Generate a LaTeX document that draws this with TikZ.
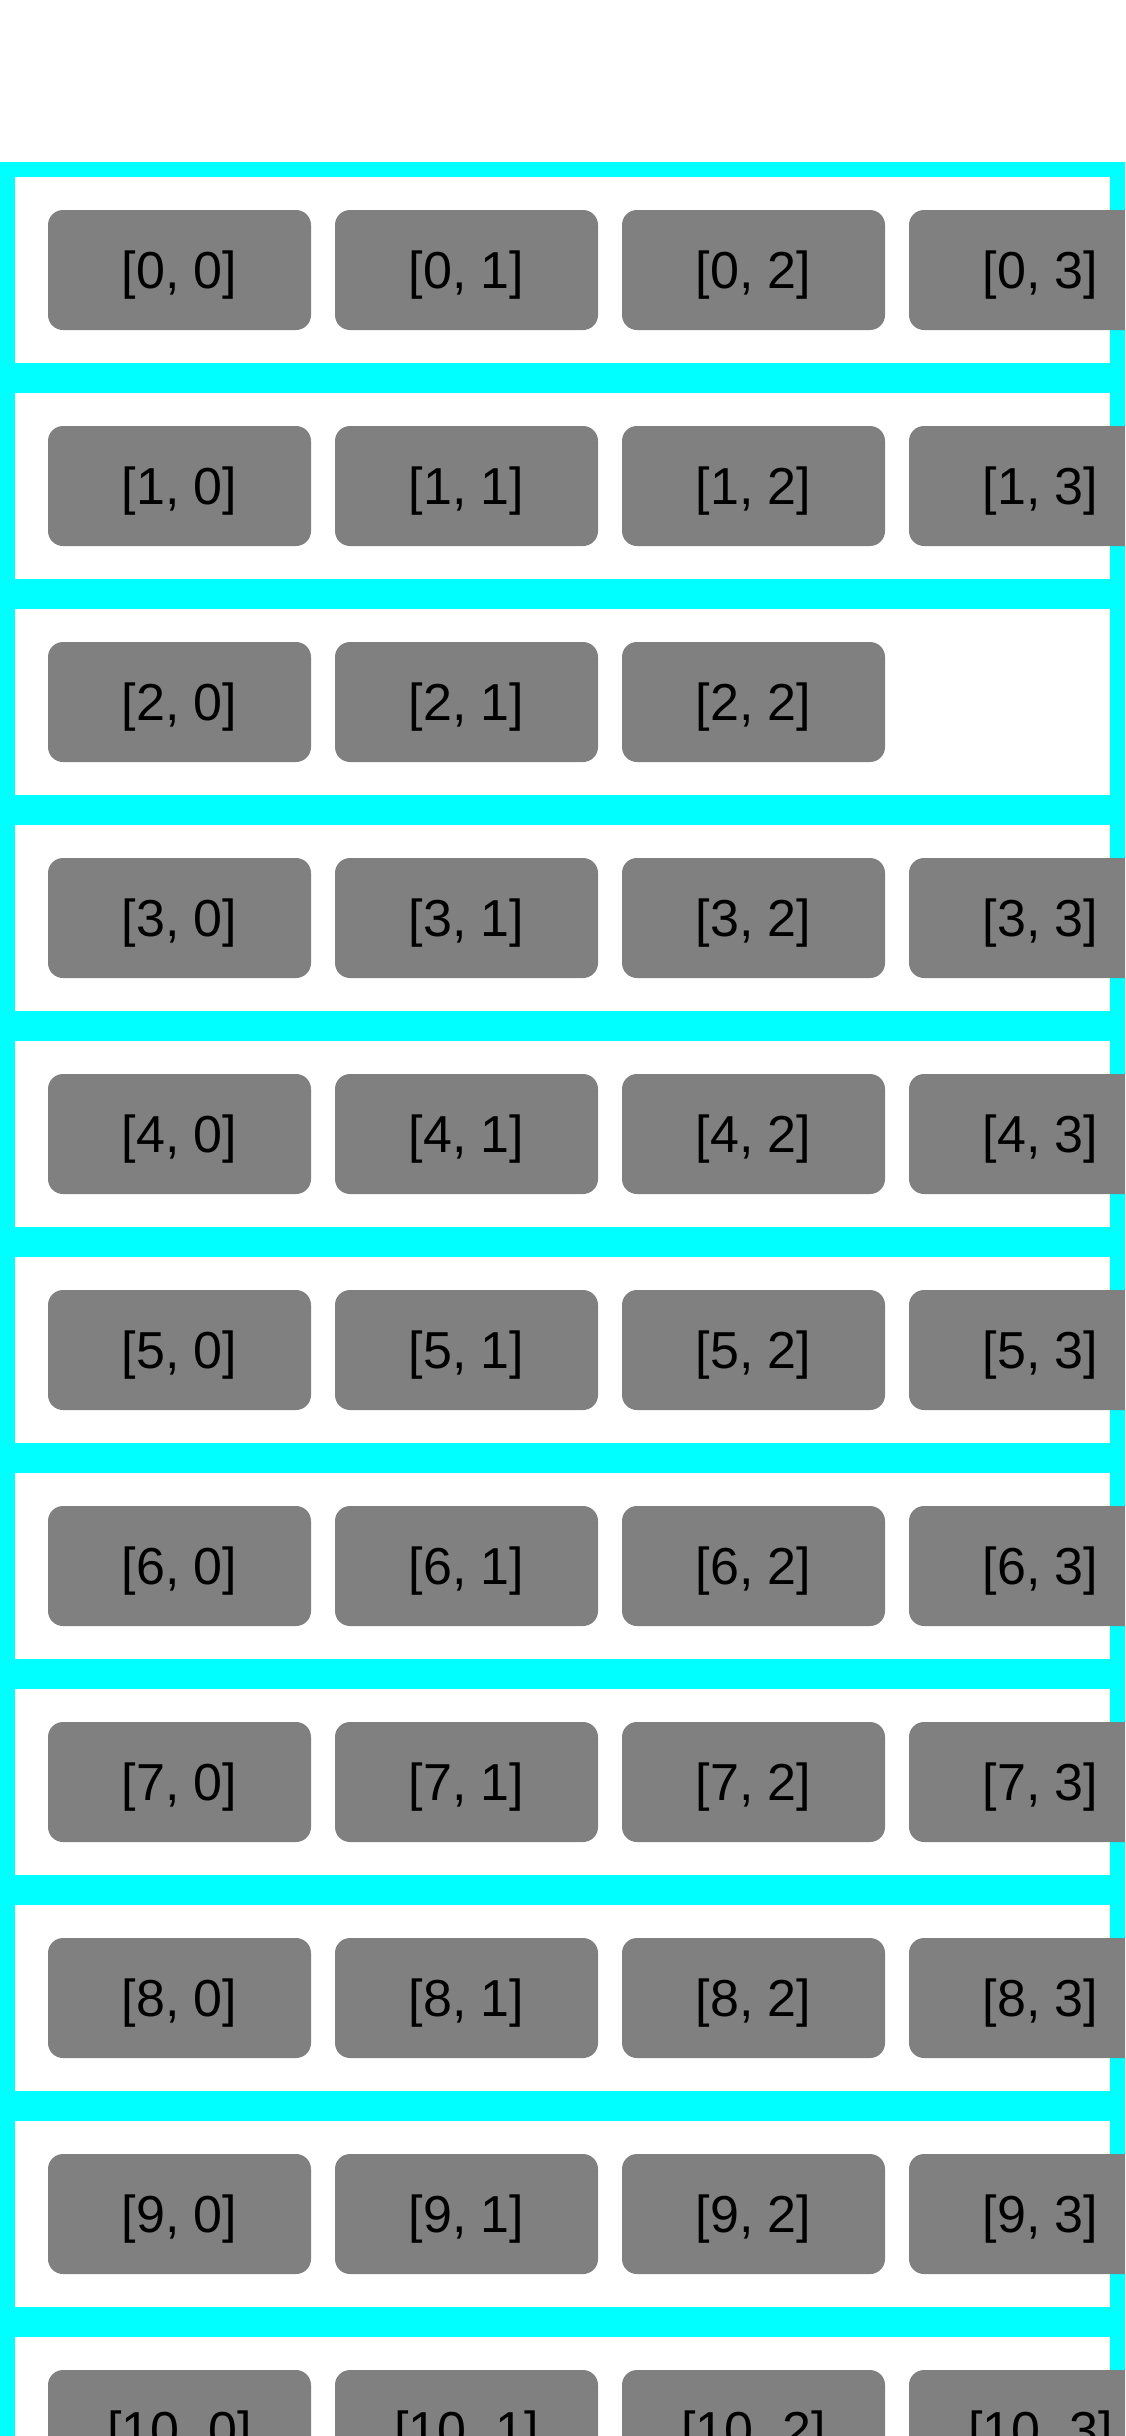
\documentclass[tikz,border=0pt]{standalone}
\usepackage{fontspec}
\setmainfont{Liberation Sans}
\usepackage{tikz}
\usetikzlibrary{positioning}
\definecolor{bandcyan}{RGB}{0,255,255}
\definecolor{cellgray}{RGB}{128,128,128}
\tikzset{
    frame/.style={fill=bandcyan},
    band/.style={fill=white},
    cell/.style={rectangle, fill=cellgray, rounded corners=7.5pt, minimum width=131.5pt, minimum height=60pt, inner sep=0pt, text height=18.7pt, text depth=0pt, font=\fontsize{26pt}{30pt}\selectfont, text=black}
}
\begin{document}
\begin{tikzpicture}[x=0.5pt, y=-0.5pt]
        \useasboundingbox (0,0) rectangle (1125,2436);
        \clip (0,0) rectangle (1125,2436);
        \fill[white] (0,0) rectangle (1125,2436);

        % cyan frame with white bands for each row
        \path[frame] (0,162) rectangle (1125,2600);
        \path[band] (15,177) rectangle (1110,363);
        \path[band] (15,393) rectangle (1110,579);
        \path[band] (15,609) rectangle (1110,795);
        \path[band] (15,825) rectangle (1110,1011);
        \path[band] (15,1041) rectangle (1110,1227);
        \path[band] (15,1257) rectangle (1110,1443);
        \path[band] (15,1473) rectangle (1110,1659);
        \path[band] (15,1689) rectangle (1110,1875);
        \path[band] (15,1905) rectangle (1110,2091);
        \path[band] (15,2121) rectangle (1110,2307);
        \path[band] (15,2337) rectangle (1110,2523);

        \node[cell] (r0c0) at (179.5, 270) {[0, 0]};
        \node[cell] (r0c1) at (466.5, 270) {[0, 1]};
        \node[cell] (r0c2) at (753.5, 270) {[0, 2]};
        \node[cell] (r0c3) at (1040.5, 270) {[0, 3]};

        \node[cell] (r1c0) at (179.5, 486) {[1, 0]};
        \node[cell] (r1c1) at (466.5, 486) {[1, 1]};
        \node[cell] (r1c2) at (753.5, 486) {[1, 2]};
        \node[cell] (r1c3) at (1040.5, 486) {[1, 3]};

        % this row has only three cells
        \node[cell] (r2c0) at (179.5, 702) {[2, 0]};
        \node[cell] (r2c1) at (466.5, 702) {[2, 1]};
        \node[cell] (r2c2) at (753.5, 702) {[2, 2]};

        \node[cell] (r3c0) at (179.5, 918) {[3, 0]};
        \node[cell] (r3c1) at (466.5, 918) {[3, 1]};
        \node[cell] (r3c2) at (753.5, 918) {[3, 2]};
        \node[cell] (r3c3) at (1040.5, 918) {[3, 3]};

        \node[cell] (r4c0) at (179.5, 1134) {[4, 0]};
        \node[cell] (r4c1) at (466.5, 1134) {[4, 1]};
        \node[cell] (r4c2) at (753.5, 1134) {[4, 2]};
        \node[cell] (r4c3) at (1040.5, 1134) {[4, 3]};

        \node[cell] (r5c0) at (179.5, 1350) {[5, 0]};
        \node[cell] (r5c1) at (466.5, 1350) {[5, 1]};
        \node[cell] (r5c2) at (753.5, 1350) {[5, 2]};
        \node[cell] (r5c3) at (1040.5, 1350) {[5, 3]};

        \node[cell] (r6c0) at (179.5, 1566) {[6, 0]};
        \node[cell] (r6c1) at (466.5, 1566) {[6, 1]};
        \node[cell] (r6c2) at (753.5, 1566) {[6, 2]};
        \node[cell] (r6c3) at (1040.5, 1566) {[6, 3]};

        \node[cell] (r7c0) at (179.5, 1782) {[7, 0]};
        \node[cell] (r7c1) at (466.5, 1782) {[7, 1]};
        \node[cell] (r7c2) at (753.5, 1782) {[7, 2]};
        \node[cell] (r7c3) at (1040.5, 1782) {[7, 3]};

        \node[cell] (r8c0) at (179.5, 1998) {[8, 0]};
        \node[cell] (r8c1) at (466.5, 1998) {[8, 1]};
        \node[cell] (r8c2) at (753.5, 1998) {[8, 2]};
        \node[cell] (r8c3) at (1040.5, 1998) {[8, 3]};

        \node[cell] (r9c0) at (179.5, 2214) {[9, 0]};
        \node[cell] (r9c1) at (466.5, 2214) {[9, 1]};
        \node[cell] (r9c2) at (753.5, 2214) {[9, 2]};
        \node[cell] (r9c3) at (1040.5, 2214) {[9, 3]};

        \node[cell] (r10c0) at (179.5, 2430) {[10, 0]};
        \node[cell] (r10c1) at (466.5, 2430) {[10, 1]};
        \node[cell] (r10c2) at (753.5, 2430) {[10, 2]};
        \node[cell] (r10c3) at (1040.5, 2430) {[10, 3]};
    \end{tikzpicture}
\end{document}
